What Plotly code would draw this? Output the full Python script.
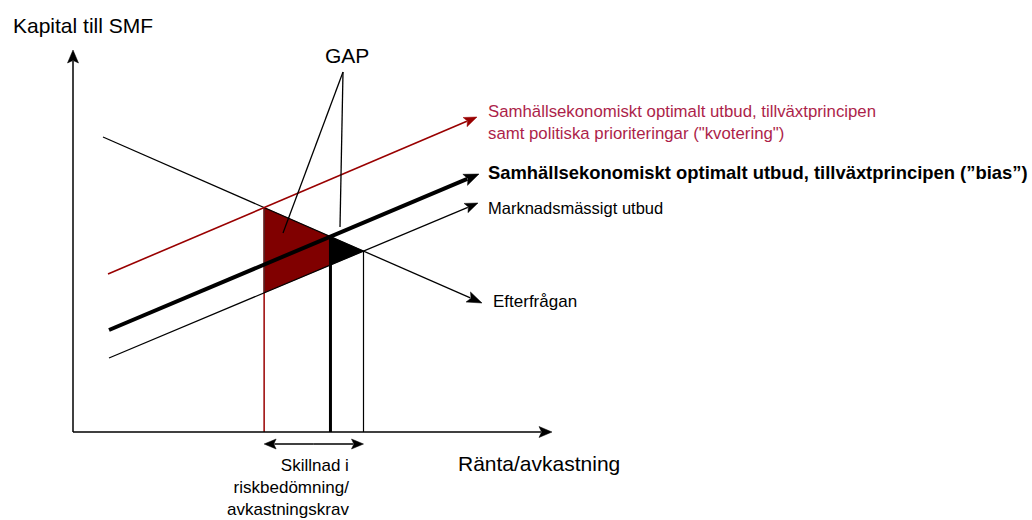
import numpy as np
import plotly.graph_objects as go

# ---- diagram data (conceptual coordinates; x = interest rate, y = capital, y grows downward on screen) ----
axis_origin = (73, 432)
y_axis_top = (73, 50)
x_axis_end = (552, 432)

demand_line = [(103, 137), (482, 303)]          # Efterfrågan
supply_quota = [(108, 274), (477, 117)]         # kvotering (red)
supply_bias = [(109, 330), (479, 174)]          # bias (thick)
supply_market = [(109, 358), (478, 203)]        # marknadsmässigt utbud

gap_label_pos = (347, 55)
gap_pointer_origin = (343, 72)
gap_pointer_ends = [(283, 233), (340, 227)]
range_arrow_y = 444

label_y_axis = "Kapital till SMF"
label_x_axis = "Ränta/avkastning"
label_gap = "GAP"
label_quota = "Samhällsekonomiskt optimalt utbud, tillväxtprincipen<br>samt politiska prioriteringar (\"kvotering\")"
label_bias = "Samhällsekonomiskt optimalt utbud, tillväxtprincipen (”bias”)"
label_market = "Marknadsmässigt utbud"
label_demand = "Efterfrågan"
label_range = "Skillnad i<br>riskbedömning/<br>avkastningskrav"

RED_LINE = "#990000"
RED_FILL = "#800000"
RED_TEXT = "#ad1f4a"
FONT = "Arial, 'Liberation Sans', sans-serif"


def line_y(line, x):
    (x0, y0), (x1, y1) = line
    return y0 + (y1 - y0) * (x - x0) / (x1 - x0)


def intersect(a, b):
    (ax0, ay0), (ax1, ay1) = a
    (bx0, by0), (bx1, by1) = b
    sa = (ay1 - ay0) / (ax1 - ax0)
    sb = (by1 - by0) / (bx1 - bx0)
    x = (by0 - ay0 + sa * ax0 - sb * bx0) / (sa - sb)
    return x, line_y(a, x)


def head(p_from, p_tip, length, half_w):
    p0 = np.array(p_from, float)
    p1 = np.array(p_tip, float)
    d = (p1 - p0) / np.linalg.norm(p1 - p0)
    n = np.array([-d[1], d[0]])
    base = p1 - d * length
    notch = p1 - d * length * 0.8
    pts = [p1, base + n * half_w, notch, base - n * half_w, p1]
    return [p[0] for p in pts], [p[1] for p in pts], tuple(p1 - d * length * 0.85)


fig = go.Figure()


def add_line(xs, ys, color="black", width=1.3):
    fig.add_trace(go.Scatter(x=xs, y=ys, mode="lines", line=dict(color=color, width=width),
                             hoverinfo="skip", showlegend=False))


def add_fill(xs, ys, color):
    fig.add_trace(go.Scatter(x=xs, y=ys, mode="lines", fill="toself", fillcolor=color,
                             line=dict(color=color, width=0.5), hoverinfo="skip", showlegend=False))


def add_arrow(p_from, p_tip, color="black", width=1.3, length=13, half_w=5.5):
    hx, hy, base = head(p_from, p_tip, length, half_w)
    add_line([p_from[0], base[0]], [p_from[1], base[1]], color, width)
    add_fill(hx, hy, color)


# intersections
xr, yr = intersect(demand_line, supply_quota)
xk, yk = intersect(demand_line, supply_bias)
xt, yt = intersect(demand_line, supply_market)

# GAP areas
add_fill([xr, xk, xk, xr, xr],
         [line_y(demand_line, xr), yk, line_y(supply_market, xk), line_y(supply_market, xr), line_y(demand_line, xr)],
         RED_FILL)
add_fill([xk, xt, xk, xk], [yk, yt, line_y(supply_market, xk), yk], "black")

# verticals
add_line([xr, xr], [yr, axis_origin[1]], RED_LINE, 1.5)
add_line([xr, xr], [yr, line_y(supply_market, xr)], "#333333", 1)
add_line([xk, xk], [yk, axis_origin[1]], "black", 3)
add_line([xt, xt], [yt, axis_origin[1]], "black", 1.2)

# axes
add_arrow(axis_origin, y_axis_top, "black", 1.5, 13, 5.5)
add_arrow(axis_origin, x_axis_end, "black", 1.5, 13, 5.5)

# curves
add_arrow(demand_line[0], demand_line[1], "black", 1.3, 15, 5.5)
add_arrow(supply_quota[0], supply_quota[1], RED_LINE, 1.6, 13, 5)
add_arrow(supply_bias[0], supply_bias[1], "black", 4, 15, 6)
add_arrow(supply_market[0], supply_market[1], "black", 1.3, 13, 5)

# GAP pointers
for end in gap_pointer_ends:
    add_line([gap_pointer_origin[0], end[0]], [gap_pointer_origin[1], end[1]], "black", 1.3)

# range double arrow
mid = ((xr + xt) / 2, range_arrow_y)
add_arrow(mid, (xr, range_arrow_y), "black", 1.3, 12, 5)
add_arrow(mid, (xt, range_arrow_y), "black", 1.3, 12, 5)

ann = [
    dict(x=11, y=25, text=label_y_axis, xanchor="left", yanchor="middle", font=dict(size=21)),
    dict(x=456, y=463, text=label_x_axis, xanchor="left", yanchor="middle", font=dict(size=21)),
    dict(x=gap_label_pos[0], y=gap_label_pos[1], text=label_gap, xanchor="center", yanchor="middle",
         font=dict(size=21)),
    dict(x=486, y=122, text=label_quota, xanchor="left", yanchor="middle", align="left",
         font=dict(size=16.8, color=RED_TEXT)),
    dict(x=486, y=172, text="<b>" + label_bias + "</b>", xanchor="left", yanchor="middle",
         font=dict(size=18.4)),
    dict(x=486, y=208, text=label_market, xanchor="left", yanchor="middle", font=dict(size=16.5)),
    dict(x=491, y=301, text=label_demand, xanchor="left", yanchor="middle", font=dict(size=17)),
    dict(x=351, y=487, text=label_range, xanchor="right", yanchor="middle", align="right",
         font=dict(size=17)),
]
for a in ann:
    a.update(xref="x", yref="y", showarrow=False)
    a["font"].setdefault("color", "black")
    a["font"]["family"] = FONT

fig.update_layout(
    width=1032, height=520,
    margin=dict(l=0, r=0, t=0, b=0, pad=0),
    paper_bgcolor="white", plot_bgcolor="white",
    xaxis=dict(range=[0, 1032], visible=False, fixedrange=True),
    yaxis=dict(range=[520, 0], visible=False, fixedrange=True),
    annotations=ann,
    showlegend=False,
)

fig.write_html("out.html", config={"displayModeBar": False},
               post_script="document.body.style.margin='0';document.body.style.overflow='hidden';")
